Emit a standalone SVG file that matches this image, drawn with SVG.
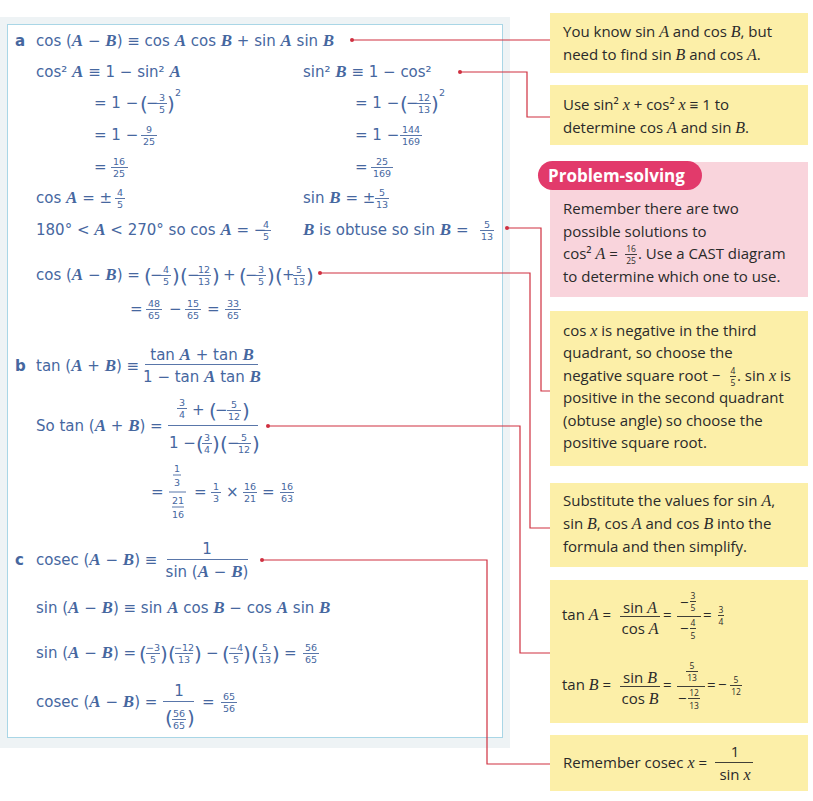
<svg xmlns="http://www.w3.org/2000/svg" width="813" height="801" viewBox="0 0 813 801">
<style>
.m{font-family:"DejaVu Sans",sans-serif;font-size:15px;fill:#46679f}
.f{font-family:"DejaVu Sans",sans-serif;font-size:9.5px;fill:#46679f;text-anchor:middle}
.p{font-family:"DejaVu Sans",sans-serif;font-size:20px;fill:#46679f}
.v{font-family:"Liberation Serif",serif;font-style:italic;font-weight:bold;font-size:17px}
.lb{font-family:"DejaVu Sans",sans-serif;font-size:15px;font-weight:bold;fill:#46679f}
.bar{stroke:#46679f;stroke-width:0.9}
.t{font-family:"Open Sans","Noto Sans",sans-serif;font-size:15px;fill:#2a2a2a}
.ts{font-family:"Open Sans","Noto Sans",sans-serif;font-size:8.5px;fill:#2a2a2a;text-anchor:middle}
.tv{font-family:"Liberation Serif",serif;font-style:italic;font-size:16px}
.tb{stroke:#2a2a2a;stroke-width:0.9}
.y{fill:#fcefa8}
.c{fill:none;stroke:#cf3040;stroke-width:1.2}
.d{fill:#cf3040}
</style>
<rect width="813" height="801" fill="#fff"/>
<g id="panel">
<rect x="0" y="17" width="510" height="731" fill="#eef3f5"/>
<rect x="7.5" y="24.5" width="495" height="713" fill="#fff" stroke="#a9d6e6" stroke-width="1"/>
</g>
<g id="part-a">
<text class="lb" x="15" y="46">a</text>
<text class="m" x="36" y="46">cos (<tspan class="v">A</tspan> − <tspan class="v">B</tspan>) ≡ cos <tspan class="v">A</tspan> cos <tspan class="v">B</tspan> + sin <tspan class="v">A</tspan> sin <tspan class="v">B</tspan></text>
<text class="m" x="36" y="77">cos² <tspan class="v">A</tspan> ≡ 1 − sin² <tspan class="v">A</tspan></text>
<text class="m" x="303" y="77">sin² <tspan class="v">B</tspan> ≡ 1 − cos²</text>
<text class="m" x="94" y="108">= 1 −</text><text class="p" x="140" y="111">(</text><text class="m" x="146" y="108">−</text>
<text class="f" x="162" y="101">3</text><line class="bar" x1="157" y1="103.5" x2="167" y2="103.5"/><text class="f" x="162" y="113">5</text>
<text class="p" x="167" y="111">)</text><text class="f" x="178" y="96">2</text>
<text class="m" x="355" y="108">= 1 −</text><text class="p" x="400" y="111">(</text><text class="m" x="406" y="108">−</text>
<text class="f" x="424" y="101">12</text><line class="bar" x1="417" y1="103.5" x2="431" y2="103.5"/><text class="f" x="424" y="113">13</text>
<text class="p" x="431" y="111">)</text><text class="f" x="442" y="96">2</text>
<text class="m" x="94" y="140">= 1 −</text>
<text class="f" x="149" y="133">9</text><line class="bar" x1="141" y1="135.5" x2="157" y2="135.5"/><text class="f" x="149" y="145">25</text>
<text class="m" x="355" y="140">= 1 −</text>
<text class="f" x="411" y="133">144</text><line class="bar" x1="400" y1="135.5" x2="422" y2="135.5"/><text class="f" x="411" y="145">169</text>
<text class="m" x="94" y="172">=</text>
<text class="f" x="119" y="165">16</text><line class="bar" x1="111" y1="167.5" x2="128" y2="167.5"/><text class="f" x="119" y="177">25</text>
<text class="m" x="355" y="172">=</text>
<text class="f" x="382" y="165">25</text><line class="bar" x1="371" y1="167.5" x2="393" y2="167.5"/><text class="f" x="382" y="177">169</text>
<text class="m" x="36" y="203">cos <tspan class="v">A</tspan> = ±</text>
<text class="f" x="120" y="196">4</text><line class="bar" x1="115" y1="198.5" x2="125" y2="198.5"/><text class="f" x="120" y="208">5</text>
<text class="m" x="303" y="203">sin <tspan class="v">B</tspan> = ±</text>
<text class="f" x="382" y="196">5</text><line class="bar" x1="375" y1="198.5" x2="389" y2="198.5"/><text class="f" x="382" y="208">13</text>
<text class="m" x="36" y="235">180° &lt; <tspan class="v">A</tspan> &lt; 270° so cos <tspan class="v">A</tspan> = −</text>
<text class="f" x="266" y="228">4</text><line class="bar" x1="261" y1="230.5" x2="271" y2="230.5"/><text class="f" x="266" y="240">5</text>
<text class="m" x="303" y="235"><tspan class="v">B</tspan> is obtuse so sin <tspan class="v">B</tspan> =</text>
<text class="f" x="487" y="228">5</text><line class="bar" x1="480" y1="230.5" x2="494" y2="230.5"/><text class="f" x="487" y="240">13</text>
<text class="m" x="36" y="280">cos (<tspan class="v">A</tspan> − <tspan class="v">B</tspan>) =</text>
<text class="p" x="144" y="283">(</text><text class="m" x="150" y="280">−</text>
<text class="f" x="166" y="273">4</text><line class="bar" x1="161" y1="275.5" x2="171" y2="275.5"/><text class="f" x="166" y="285">5</text>
<text class="p" x="172" y="283">)</text><text class="p" x="180" y="283">(</text><text class="m" x="187" y="280">−</text>
<text class="f" x="204" y="273">12</text><line class="bar" x1="197" y1="275.5" x2="211" y2="275.5"/><text class="f" x="204" y="285">13</text>
<text class="p" x="212" y="283">)</text><text class="m" x="223" y="280">+</text>
<text class="p" x="239" y="283">(</text><text class="m" x="245" y="280">−</text>
<text class="f" x="261" y="273">3</text><line class="bar" x1="256" y1="275.5" x2="266" y2="275.5"/><text class="f" x="261" y="285">5</text>
<text class="p" x="267" y="283">)</text><text class="p" x="275" y="283">(</text><text class="m" x="282" y="280">+</text>
<text class="f" x="299" y="273">5</text><line class="bar" x1="293" y1="275.5" x2="305" y2="275.5"/><text class="f" x="299" y="285">13</text>
<text class="p" x="306" y="283">)</text>
<text class="m" x="130" y="314">=</text>
<text class="f" x="154" y="307">48</text><line class="bar" x1="146" y1="309.5" x2="162" y2="309.5"/><text class="f" x="154" y="319">65</text>
<text class="m" x="169" y="314">−</text>
<text class="f" x="193" y="307">15</text><line class="bar" x1="185" y1="309.5" x2="201" y2="309.5"/><text class="f" x="193" y="319">65</text>
<text class="m" x="207" y="314">=</text>
<text class="f" x="233" y="307">33</text><line class="bar" x1="225" y1="309.5" x2="241" y2="309.5"/><text class="f" x="233" y="319">65</text>
</g>
<g id="part-b">
<text class="lb" x="15" y="371">b</text>
<text class="m" x="36" y="371">tan (<tspan class="v">A</tspan> + <tspan class="v">B</tspan>) ≡</text>
<text class="m" x="202" y="360" text-anchor="middle">tan <tspan class="v">A</tspan> + tan <tspan class="v">B</tspan></text>
<line class="bar" x1="145" y1="364.5" x2="258" y2="364.5"/>
<text class="m" x="202" y="382" text-anchor="middle">1 − tan <tspan class="v">A</tspan> tan <tspan class="v">B</tspan></text>
<text class="m" x="36" y="431">So tan (<tspan class="v">A</tspan> + <tspan class="v">B</tspan>) =</text>
<text class="f" x="182" y="406">3</text><line class="bar" x1="177" y1="408.5" x2="187" y2="408.5"/><text class="f" x="182" y="418">4</text>
<text class="m" x="192" y="415">+</text>
<text class="p" x="209" y="418">(</text><text class="m" x="215" y="415">−</text>
<text class="f" x="234" y="408">5</text><line class="bar" x1="227" y1="410.5" x2="241" y2="410.5"/><text class="f" x="234" y="420">12</text>
<text class="p" x="242" y="418">)</text>
<line class="bar" x1="168" y1="425.5" x2="258" y2="425.5"/>
<text class="m" x="169" y="448">1 −</text>
<text class="p" x="196" y="451">(</text>
<text class="f" x="207" y="441">3</text><line class="bar" x1="202" y1="443.5" x2="212" y2="443.5"/><text class="f" x="207" y="453">4</text>
<text class="p" x="212" y="451">)</text><text class="p" x="220" y="451">(</text><text class="m" x="227" y="448">−</text>
<text class="f" x="244" y="441">5</text><line class="bar" x1="237" y1="443.5" x2="251" y2="443.5"/><text class="f" x="244" y="453">12</text>
<text class="p" x="252" y="451">)</text>
<text class="m" x="151" y="497">=</text>
<text class="f" x="177" y="472">1</text><line class="bar" x1="173" y1="475" x2="181" y2="475"/><text class="f" x="177" y="486">3</text>
<line class="bar" x1="169" y1="492" x2="186" y2="492"/>
<text class="f" x="178" y="504">21</text><line class="bar" x1="172" y1="507" x2="184" y2="507"/><text class="f" x="178" y="518">16</text>
<text class="m" x="194" y="497">=</text>
<text class="f" x="216" y="490">1</text><line class="bar" x1="211" y1="492.5" x2="221" y2="492.5"/><text class="f" x="216" y="502">3</text>
<text class="m" x="226" y="497">×</text>
<text class="f" x="250" y="490">16</text><line class="bar" x1="243" y1="492.5" x2="257" y2="492.5"/><text class="f" x="250" y="502">21</text>
<text class="m" x="262" y="497">=</text>
<text class="f" x="287" y="490">16</text><line class="bar" x1="280" y1="492.5" x2="294" y2="492.5"/><text class="f" x="287" y="502">63</text>
</g>
<g id="part-c">
<text class="lb" x="15" y="565">c</text>
<text class="m" x="36" y="565">cosec (<tspan class="v">A</tspan> − <tspan class="v">B</tspan>) ≡</text>
<text class="m" x="207" y="554" text-anchor="middle">1</text>
<line class="bar" x1="167" y1="559.5" x2="248" y2="559.5"/>
<text class="m" x="207" y="577" text-anchor="middle">sin (<tspan class="v">A</tspan> − <tspan class="v">B</tspan>)</text>
<text class="m" x="36" y="613">sin (<tspan class="v">A</tspan> − <tspan class="v">B</tspan>) ≡ sin <tspan class="v">A</tspan> cos <tspan class="v">B</tspan> − cos <tspan class="v">A</tspan> sin <tspan class="v">B</tspan></text>
<text class="m" x="36" y="658">sin (<tspan class="v">A</tspan> − <tspan class="v">B</tspan>) =</text>
<text class="p" x="139" y="661">(</text>
<text class="f" x="153" y="651">−3</text><line class="bar" x1="146" y1="653.5" x2="160" y2="653.5"/><text class="f" x="153" y="663">5</text>
<text class="p" x="160" y="661">)</text><text class="p" x="168" y="661">(</text>
<text class="f" x="184" y="651">−12</text><line class="bar" x1="175" y1="653.5" x2="193" y2="653.5"/><text class="f" x="184" y="663">13</text>
<text class="p" x="194" y="661">)</text>
<text class="m" x="206" y="658">−</text>
<text class="p" x="222" y="661">(</text>
<text class="f" x="236" y="651">−4</text><line class="bar" x1="229" y1="653.5" x2="243" y2="653.5"/><text class="f" x="236" y="663">5</text>
<text class="p" x="243" y="661">)</text><text class="p" x="251" y="661">(</text>
<text class="f" x="265" y="651">5</text><line class="bar" x1="259" y1="653.5" x2="271" y2="653.5"/><text class="f" x="265" y="663">13</text>
<text class="p" x="272" y="661">)</text>
<text class="m" x="284" y="658">=</text>
<text class="f" x="311" y="651">56</text><line class="bar" x1="303" y1="653.5" x2="319" y2="653.5"/><text class="f" x="311" y="663">65</text>
<text class="m" x="36" y="707">cosec (<tspan class="v">A</tspan> − <tspan class="v">B</tspan>) =</text>
<text class="m" x="179" y="696" text-anchor="middle">1</text>
<line class="bar" x1="163" y1="701.5" x2="194" y2="701.5"/>
<text class="p" x="165" y="725">(</text>
<text class="f" x="179" y="717">56</text><line class="bar" x1="172" y1="719.5" x2="186" y2="719.5"/><text class="f" x="179" y="729">65</text>
<text class="p" x="187" y="725">)</text>
<text class="m" x="202" y="707">=</text>
<text class="f" x="229" y="700">65</text><line class="bar" x1="221" y1="702.5" x2="237" y2="702.5"/><text class="f" x="229" y="712">56</text>
</g>
<g id="connectors">
<path class="c" d="M352 40H550"/>
<path class="c" d="M460 72H527V117H550"/>
<path class="c" d="M507 228H541V391H550"/>
<path class="c" d="M320 273H530V528H550"/>
<path class="c" d="M268 426H520V653H550"/>
<path class="c" d="M262 560H487V764H550"/>
<circle class="d" cx="352" cy="40" r="2"/>
<circle class="d" cx="460" cy="72" r="2"/>
<circle class="d" cx="507" cy="228" r="2"/>
<circle class="d" cx="320" cy="273" r="2"/>
<circle class="d" cx="268" cy="426" r="2"/>
<circle class="d" cx="262" cy="560" r="2"/>
</g>
<g id="note1">
<rect class="y" x="550" y="13" width="258" height="60"/>
<text class="t" x="563" y="37">You know sin <tspan class="tv">A</tspan> and cos <tspan class="tv">B</tspan>, but</text>
<text class="t" x="563" y="60">need to find sin <tspan class="tv">B</tspan> and cos <tspan class="tv">A</tspan>.</text>
</g>
<g id="note2">
<rect class="y" x="550" y="85" width="258" height="60"/>
<text class="t" x="563" y="110">Use sin² <tspan class="tv">x</tspan> + cos² <tspan class="tv">x</tspan> ≡ 1 to</text>
<text class="t" x="563" y="133">determine cos <tspan class="tv">A</tspan> and sin <tspan class="tv">B</tspan>.</text>
</g>
<g id="problem-solving">
<rect x="550" y="162" width="258" height="135" fill="#f9d4dc"/>
<rect x="538" y="161" width="164" height="29" rx="14.5" fill="#e23a6b"/>
<text x="548" y="182" font-family="'Open Sans','Noto Sans',sans-serif" font-size="17" font-weight="bold" fill="#fff">Problem-solving</text>
<text class="t" x="563" y="214">Remember there are two</text>
<text class="t" x="563" y="237">possible solutions to</text>
<text class="t" x="563" y="259">cos² <tspan class="tv">A</tspan> =</text>
<text class="ts" x="631" y="252">16</text><line class="tb" x1="625" y1="254.5" x2="637" y2="254.5"/><text class="ts" x="631" y="263.5">25</text>
<text class="t" x="638" y="259">. Use a CAST diagram</text>
<text class="t" x="563" y="282">to determine which one to use.</text>
</g>
<g id="note4">
<rect class="y" x="550" y="311" width="258" height="155"/>
<text class="t" x="563" y="336">cos <tspan class="tv">x</tspan> is negative in the third</text>
<text class="t" x="563" y="358">quadrant, so choose the</text>
<text class="t" x="563" y="381">negative square root −</text>
<text class="ts" x="733" y="374">4</text><line class="tb" x1="730" y1="376.5" x2="736" y2="376.5"/><text class="ts" x="733" y="385.5">5</text>
<text class="t" x="737" y="381">. sin <tspan class="tv">x</tspan> is</text>
<text class="t" x="563" y="403">positive in the second quadrant</text>
<text class="t" x="563" y="426">(obtuse angle) so choose the</text>
<text class="t" x="563" y="448">positive square root.</text>
</g>
<g id="note5">
<rect class="y" x="550" y="483" width="258" height="84"/>
<text class="t" x="563" y="506">Substitute the values for sin <tspan class="tv">A</tspan>,</text>
<text class="t" x="563" y="529">sin <tspan class="tv">B</tspan>, cos <tspan class="tv">A</tspan> and cos <tspan class="tv">B</tspan> into the</text>
<text class="t" x="563" y="552">formula and then simplify.</text>
</g>
<g id="note6">
<rect class="y" x="550" y="580" width="258" height="143"/>
<text class="t" x="562" y="620">tan <tspan class="tv">A</tspan> =</text>
<text class="t" x="640" y="613" text-anchor="middle">sin <tspan class="tv">A</tspan></text>
<line class="tb" x1="620" y1="616.5" x2="660" y2="616.5"/>
<text class="t" x="640" y="634" text-anchor="middle">cos <tspan class="tv">A</tspan></text>
<text class="t" x="663" y="620">=</text>
<text class="t" x="680" y="608">−</text><text class="ts" x="693" y="599">3</text><line class="tb" x1="690" y1="601.5" x2="696" y2="601.5"/><text class="ts" x="693" y="611">5</text>
<line class="tb" x1="677" y1="616.5" x2="701" y2="616.5"/>
<text class="t" x="680" y="634">−</text><text class="ts" x="693" y="626">4</text><line class="tb" x1="690" y1="628.5" x2="696" y2="628.5"/><text class="ts" x="693" y="638.5">5</text>
<text class="t" x="703" y="620">=</text>
<text class="ts" x="721" y="613">3</text><line class="tb" x1="718" y1="615.5" x2="724" y2="615.5"/><text class="ts" x="721" y="624.5">4</text>
<text class="t" x="562" y="690">tan <tspan class="tv">B</tspan> =</text>
<text class="t" x="640" y="683" text-anchor="middle">sin <tspan class="tv">B</tspan></text>
<line class="tb" x1="620" y1="686.5" x2="660" y2="686.5"/>
<text class="t" x="640" y="704" text-anchor="middle">cos <tspan class="tv">B</tspan></text>
<text class="t" x="663" y="690">=</text>
<text class="ts" x="692" y="669">5</text><line class="tb" x1="686" y1="671.5" x2="698" y2="671.5"/><text class="ts" x="692" y="681">13</text>
<line class="tb" x1="677" y1="686.5" x2="705" y2="686.5"/>
<text class="t" x="678" y="704">−</text><text class="ts" x="694" y="696">12</text><line class="tb" x1="688" y1="698.5" x2="700" y2="698.5"/><text class="ts" x="694" y="708.5">13</text>
<text class="t" x="707" y="690">=</text>
<text class="t" x="718" y="690">−</text>
<text class="ts" x="736" y="683">5</text><line class="tb" x1="730" y1="685.5" x2="742" y2="685.5"/><text class="ts" x="736" y="694.5">12</text>
</g>
<g id="note7">
<rect class="y" x="550" y="735" width="258" height="56"/>
<text class="t" x="563" y="768">Remember cosec <tspan class="tv">x</tspan> =</text>
<text class="t" x="735" y="757" text-anchor="middle">1</text>
<line class="tb" x1="715" y1="762.5" x2="753" y2="762.5"/>
<text class="t" x="735" y="780" text-anchor="middle">sin <tspan class="tv">x</tspan></text>
</g>
</svg>
